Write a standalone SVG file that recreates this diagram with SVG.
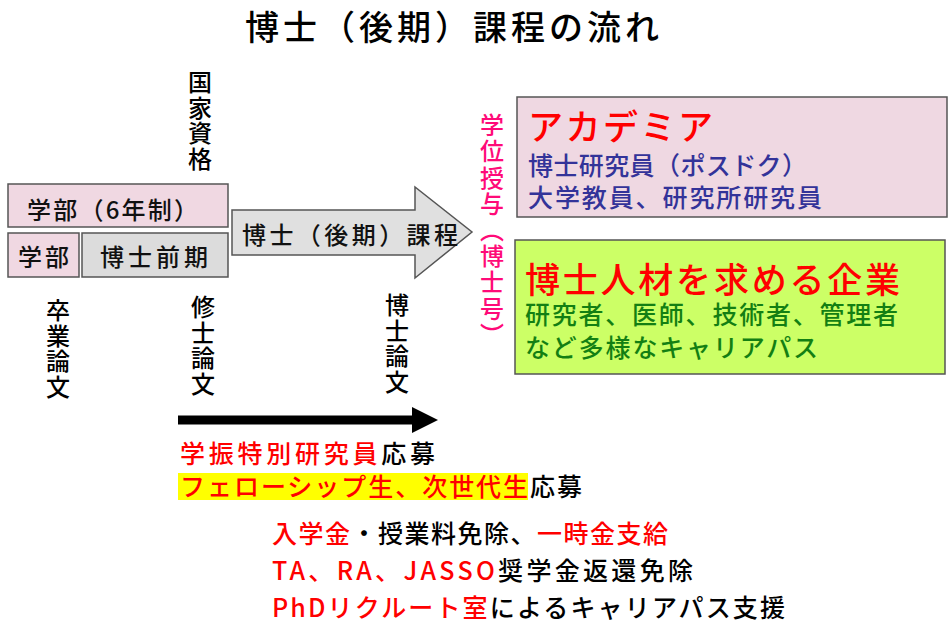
<svg xmlns="http://www.w3.org/2000/svg" width="948" height="628" viewBox="0 0 948 628">
<style>
text{font-family:"Noto Sans CJK JP","Noto Sans",sans-serif;font-weight:500;}
.box{stroke:#555;stroke-width:1.5;}
.pink{fill:#f0d8e2;}
.gray{fill:#dcdcdc;}
.t22{font-size:24px;fill:#111;}
.vt{font-size:24px;fill:#000;writing-mode:vertical-rl;letter-spacing:1.5px;}
.red{fill:#ff0000;}
.blk{fill:#000;}
.big{font-size:35px;}
.mid{font-size:25px;}
</style>
<rect width="948" height="628" fill="#fff"/>
<text id="title" x="452" y="40" font-size="34" text-anchor="middle" textLength="414" lengthAdjust="spacing" fill="#000">博士（後期）課程の流れ</text>

<g id="gakubu6">
<rect class="box pink" x="8" y="184" width="220" height="43"/>
<text class="t22" x="27" y="219" textLength="171" lengthAdjust="spacing">学部（6年制）</text>
</g>
<g id="gakubu">
<rect class="box pink" x="8" y="233" width="71" height="44"/>
<text class="t22" x="18" y="266" textLength="51" lengthAdjust="spacing">学部</text>
</g>
<g id="hakase-zenki">
<rect class="box gray" x="82" y="233" width="146" height="44"/>
<text class="t22" x="100" y="266" textLength="108" lengthAdjust="spacing">博士前期</text>
</g>
<g id="hakase-kouki">
<path class="box" fill="#e0e0e0" d="M232,210 H415 V187 L472,232 L415,278 V255 H232 Z"/>
<text class="t22" x="242" y="244" textLength="216" lengthAdjust="spacing">博士（後期）課程</text>
</g>

<g id="labels-vertical">
<text id="kokka" class="vt" x="200" y="70">国家資格</text>
<text id="sotsugyo" class="vt" x="58" y="298">卒業論文</text>
<text id="shushi" class="vt" x="203" y="295">修士論文</text>
<text id="hakushi" class="vt" x="397" y="293">博士論文</text>
<text id="gakui" class="vt" x="492" y="113" style="fill:#ff0a78;letter-spacing:2.2px">学位授与（博士号）</text>
</g>

<g id="connectors">
<line x1="178" y1="420" x2="414" y2="420" stroke="#000" stroke-width="9"/>
<polygon points="412,407 438,420 412,433" fill="#000"/>
</g>

<g id="academia">
<rect class="box" fill="#efd8e2" x="517" y="97" width="430" height="120"/>
<text class="big red" x="528" y="140" textLength="185" lengthAdjust="spacing">アカデミア</text>
<text class="mid" x="528" y="175" fill="#333399" textLength="279" lengthAdjust="spacing">博士研究員（ポスドク）</text>
<text class="mid" x="528" y="207" fill="#333399" textLength="294" lengthAdjust="spacing">大学教員、研究所研究員</text>
</g>
<g id="kigyo">
<rect class="box" fill="#ccff66" x="515" y="240" width="430" height="134"/>
<text class="big red" x="525" y="293" textLength="375" lengthAdjust="spacing">博士人材を求める企業</text>
<text class="mid" x="525" y="324" fill="#137f13" textLength="373" lengthAdjust="spacing">研究者、医師、技術者、管理者</text>
<text class="mid" x="525" y="357" fill="#137f13" textLength="293" lengthAdjust="spacing">など多様なキャリアパス</text>
</g>

<g id="support">
<rect x="178" y="473" width="350" height="27" fill="#ffff00"/>
<text class="mid" x="180" y="463" textLength="255" lengthAdjust="spacing"><tspan class="red">学振特別研究員</tspan><tspan class="blk">応募</tspan></text>
<text class="mid" x="180" y="496" textLength="402" lengthAdjust="spacing"><tspan class="red">フェローシップ生、次世代生</tspan><tspan class="blk">応募</tspan></text>
<text class="mid" x="272" y="543" textLength="396" lengthAdjust="spacing"><tspan class="red">入学金</tspan><tspan class="blk">・授業料免除、</tspan><tspan class="red">一時金支給</tspan></text>
<text class="mid" x="272" y="580" textLength="421" lengthAdjust="spacing"><tspan class="red">TA、RA、JASSO</tspan><tspan class="blk">奨学金返還免除</tspan></text>
<text class="mid" x="272" y="617" textLength="513" lengthAdjust="spacing"><tspan class="red">PhDリクルート室</tspan><tspan class="blk">によるキャリアパス支援</tspan></text>
</g>
</svg>
